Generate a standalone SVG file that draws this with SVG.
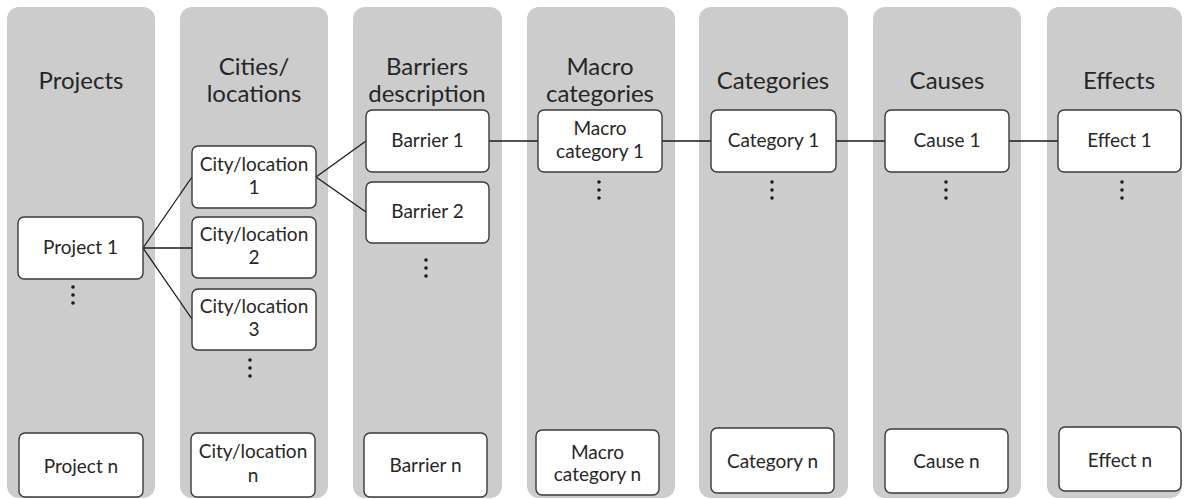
<svg xmlns="http://www.w3.org/2000/svg" width="1184" height="499" viewBox="0 0 1184 499">
  <style>
    .lane { fill: #cccccc; }
    .box { fill: #ffffff; stroke: #3a3a3a; stroke-width: 1.4; }
    .title { font-family: Lato, "Open Sans", "Liberation Sans", sans-serif; font-size: 24px; fill: #262626; text-anchor: middle; }
    .label { font-family: Lato, "Open Sans", "Liberation Sans", sans-serif; font-size: 19px; fill: #262626; text-anchor: middle; }
    .link { stroke: #1a1a1a; stroke-width: 1.3; fill: none; }
    .dot { fill: #1a1a1a; }
  </style>
  <defs>
    <g id="vdots">
      <circle cx="0" cy="0" r="1.8" class="dot"/>
      <circle cx="0" cy="8" r="1.8" class="dot"/>
      <circle cx="0" cy="16" r="1.8" class="dot"/>
    </g>
  </defs>

  <!-- lane backgrounds -->
  <g id="lanes">
    <rect class="lane" x="7" y="7" width="148" height="491" rx="12"/>
    <rect class="lane" x="180" y="7" width="148" height="491" rx="12"/>
    <rect class="lane" x="353" y="7" width="149" height="491" rx="12"/>
    <rect class="lane" x="527" y="7" width="148" height="491" rx="12"/>
    <rect class="lane" x="699" y="7" width="149" height="491" rx="12"/>
    <rect class="lane" x="873" y="7" width="148" height="491" rx="12"/>
    <rect class="lane" x="1047" y="7" width="135" height="491" rx="12"/>
  </g>

  <!-- lane headings -->
  <g id="titles">
    <text class="title" x="81" y="89">Projects</text>
    <text class="title" x="254" y="75">Cities/</text>
    <text class="title" x="254" y="102">locations</text>
    <text class="title" x="427" y="75">Barriers</text>
    <text class="title" x="427" y="102">description</text>
    <text class="title" x="600" y="75">Macro</text>
    <text class="title" x="600" y="102">categories</text>
    <text class="title" x="773" y="89">Categories</text>
    <text class="title" x="947" y="89">Causes</text>
    <text class="title" x="1119" y="89">Effects</text>
  </g>

  <!-- connectors -->
  <g id="connectors">
    <line class="link" x1="143" y1="248" x2="192" y2="177"/>
    <line class="link" x1="143" y1="248" x2="192" y2="248"/>
    <line class="link" x1="143" y1="248" x2="192" y2="319"/>
    <line class="link" x1="316" y1="177" x2="366" y2="141"/>
    <line class="link" x1="316" y1="177" x2="366" y2="212"/>
    <line class="link" x1="489" y1="141" x2="538" y2="141"/>
    <line class="link" x1="662" y1="141" x2="711" y2="141"/>
    <line class="link" x1="836" y1="141" x2="885" y2="141"/>
    <line class="link" x1="1009" y1="141" x2="1058" y2="141"/>
  </g>

  <!-- Projects -->
  <g id="project-1">
    <rect class="box" x="18" y="217" width="125" height="62" rx="6"/>
    <text class="label" x="80.5" y="254">Project 1</text>
  </g>
  <use href="#vdots" x="73" y="287"/>
  <g id="project-n">
    <rect class="box" x="19" y="433" width="124" height="64" rx="6"/>
    <text class="label" x="81" y="473">Project n</text>
  </g>

  <!-- Cities / locations -->
  <g id="city-1">
    <rect class="box" x="192" y="146" width="124" height="62" rx="6"/>
    <text class="label" x="254" y="171">City/location</text>
    <text class="label" x="254" y="194">1</text>
  </g>
  <g id="city-2">
    <rect class="box" x="192" y="217" width="124" height="61" rx="6"/>
    <text class="label" x="254" y="241">City/location</text>
    <text class="label" x="254" y="264">2</text>
  </g>
  <g id="city-3">
    <rect class="box" x="192" y="289" width="124" height="61" rx="6"/>
    <text class="label" x="254" y="313">City/location</text>
    <text class="label" x="254" y="336">3</text>
  </g>
  <use href="#vdots" x="250" y="360"/>
  <g id="city-n">
    <rect class="box" x="191" y="433" width="124" height="64" rx="6"/>
    <text class="label" x="253" y="458">City/location</text>
    <text class="label" x="253" y="482">n</text>
  </g>

  <!-- Barriers description -->
  <g id="barrier-1">
    <rect class="box" x="366" y="110" width="123" height="62" rx="6"/>
    <text class="label" x="427.5" y="147">Barrier 1</text>
  </g>
  <g id="barrier-2">
    <rect class="box" x="366" y="182" width="123" height="61" rx="6"/>
    <text class="label" x="427.5" y="218">Barrier 2</text>
  </g>
  <use href="#vdots" x="426" y="260"/>
  <g id="barrier-n">
    <rect class="box" x="364" y="433" width="123" height="64" rx="6"/>
    <text class="label" x="425.5" y="472">Barrier n</text>
  </g>

  <!-- Macro categories -->
  <g id="macro-1">
    <rect class="box" x="538" y="110" width="124" height="62" rx="6"/>
    <text class="label" x="600" y="135">Macro</text>
    <text class="label" x="600" y="158">category 1</text>
  </g>
  <use href="#vdots" x="599" y="182"/>
  <g id="macro-n">
    <rect class="box" x="536" y="430" width="123" height="65" rx="6"/>
    <text class="label" x="597.5" y="459">Macro</text>
    <text class="label" x="597.5" y="481">category n</text>
  </g>

  <!-- Categories -->
  <g id="category-1">
    <rect class="box" x="711" y="110" width="125" height="62" rx="6"/>
    <text class="label" x="773.5" y="147">Category 1</text>
  </g>
  <use href="#vdots" x="772" y="182"/>
  <g id="category-n">
    <rect class="box" x="711" y="428" width="123" height="65" rx="6"/>
    <text class="label" x="772.5" y="468">Category n</text>
  </g>

  <!-- Causes -->
  <g id="cause-1">
    <rect class="box" x="885" y="110" width="124" height="62" rx="6"/>
    <text class="label" x="947" y="147">Cause 1</text>
  </g>
  <use href="#vdots" x="946" y="182"/>
  <g id="cause-n">
    <rect class="box" x="885" y="429" width="123" height="64" rx="6"/>
    <text class="label" x="946.5" y="468">Cause n</text>
  </g>

  <!-- Effects -->
  <g id="effect-1">
    <rect class="box" x="1058" y="110" width="123" height="62" rx="6"/>
    <text class="label" x="1119.5" y="147">Effect 1</text>
  </g>
  <use href="#vdots" x="1122" y="182"/>
  <g id="effect-n">
    <rect class="box" x="1059" y="427" width="122" height="64" rx="6"/>
    <text class="label" x="1120" y="467">Effect n</text>
  </g>
</svg>
